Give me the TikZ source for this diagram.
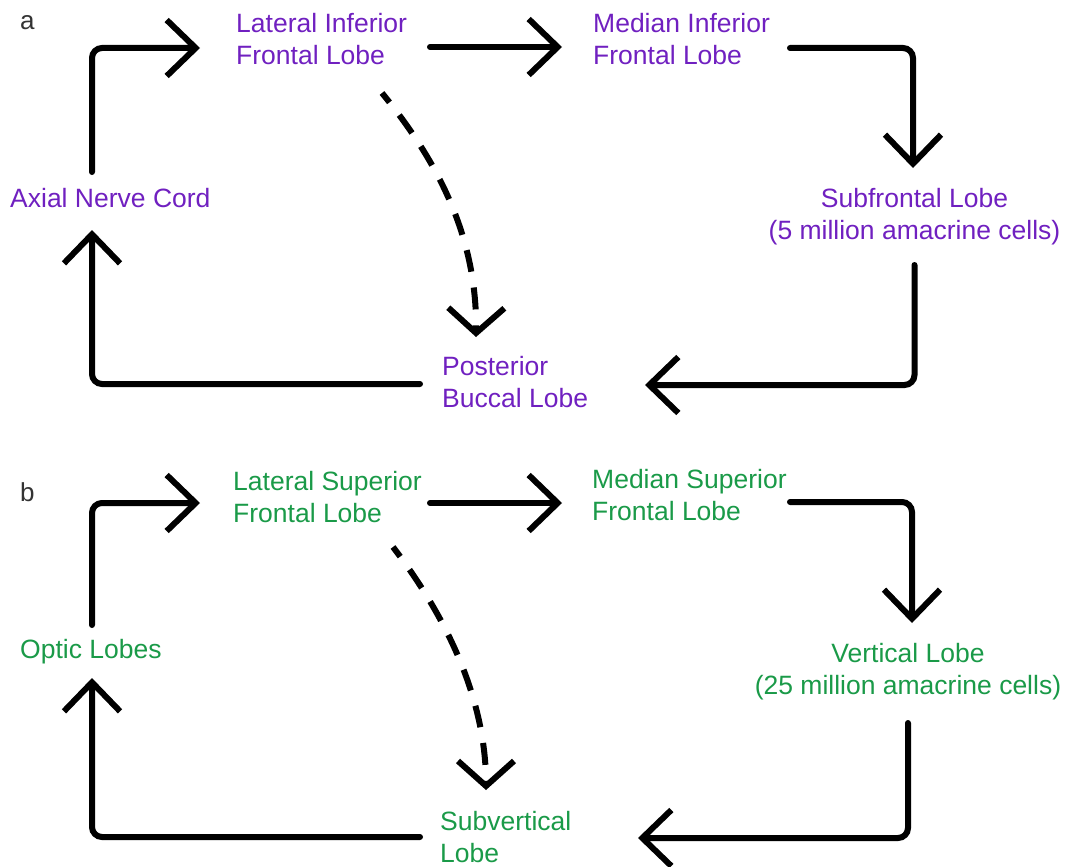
\documentclass[tikz,border=0pt]{standalone}
\usepackage{fontspec}
\setmainfont{Liberation Sans}
\usetikzlibrary{arrows.meta,calc}
\definecolor{lobepurple}{HTML}{7020C0}
\definecolor{lobegreen}{HTML}{1A9A48}
\definecolor{panelgray}{HTML}{333333}
\begin{document}
\begin{tikzpicture}[x=1pt,y=-1pt,
  lbl/.style={inner sep=0pt, font=\fontsize{26.5}{32}\selectfont},
  purp/.style={lbl, text=lobepurple},
  grn/.style={lbl, text=lobegreen},
  panel/.style={inner sep=0pt, text=panelgray, font=\fontsize{26}{32}\selectfont},
  arr/.style={line width=6pt, rounded corners=10pt, line cap=round,
    -{Straight Barb[length=29pt,width=56pt]}},
  darr/.style={line width=6pt, dash pattern=on 22pt off 16pt, dash phase=10pt,
    -{Straight Barb[length=25pt,width=56pt]}}]
\useasboundingbox (0,0) rectangle (1069,867);

% ---------- panel a ----------
\node[panel, anchor=base west] (pa) at (20,30) {a};
\node[purp, anchor=base west] (axial) at (10,207) {Axial Nerve Cord};
\node[purp, anchor=north west, align=left] (lat) at (236,13) {Lateral Inferior\\Frontal Lobe};
\node[purp, anchor=north west, align=left] (med) at (593,13) {Median Inferior\\Frontal Lobe};
\node[purp, anchor=north, align=center] (sub) at (914.5,188) {Subfrontal Lobe\\(5 million amacrine cells)};
\node[purp, anchor=north west, align=left] (post) at (442,356) {Posterior\\Buccal Lobe};

\draw[arr] ($(axial.base west)+(82,-35)$) |- ($(lat.north west)+(-36,35)$);
\draw[arr] ($(lat.north west)+(194,34)$) -- ($(med.north west)+(-31,34)$);
\draw[arr] ($(med.north west)+(197,35)$) -| ($(sub.north)+(-1.5,-20)$);
\draw[arr] ($(sub.north)+(0,77)$) |- ($(post.north west)+(203,29)$);
\draw[arr] ($(post.north west)+(-22,28)$) -| ($(axial.base west)+(82,23)$);
\draw[darr] ($(lat.north west)+(146,80)$) .. controls +(63,77) and +(1,-92) .. ($(post.north west)+(34,-19)$);

% ---------- panel b ----------
\node[panel, anchor=base west] (pb) at (20,501) {b};
\node[grn, anchor=base west] (optic) at (20,658) {Optic Lobes};
\node[grn, anchor=north west, align=left] (lsf) at (233,471) {Lateral Superior\\Frontal Lobe};
\node[grn, anchor=north west, align=left] (msf) at (592,469) {Median Superior\\Frontal Lobe};
\node[grn, anchor=north, align=center] (vert) at (908,643) {Vertical Lobe\\(25 million amacrine cells)};
\node[grn, anchor=north west, align=left] (subv) at (440,811) {Subvertical\\Lobe};

\draw[arr] ($(optic.base west)+(72,-33)$) |- ($(lsf.north west)+(-33,32)$);
\draw[arr] ($(lsf.north west)+(197,32)$) -- ($(msf.north west)+(-30,34)$);
\draw[arr] ($(msf.north west)+(198,33)$) -| ($(vert.north)+(4,-20)$);
\draw[arr] ($(vert.north)+(0,80)$) |- ($(subv.north west)+(198,27)$);
\draw[arr] ($(subv.north west)+(-20,26)$) -| ($(optic.base west)+(72,20)$);
\draw[darr] ($(lsf.north west)+(160,76)$) .. controls +(62,81) and +(0,-81) .. ($(subv.north west)+(46,-21)$);
\end{tikzpicture}
\end{document}
